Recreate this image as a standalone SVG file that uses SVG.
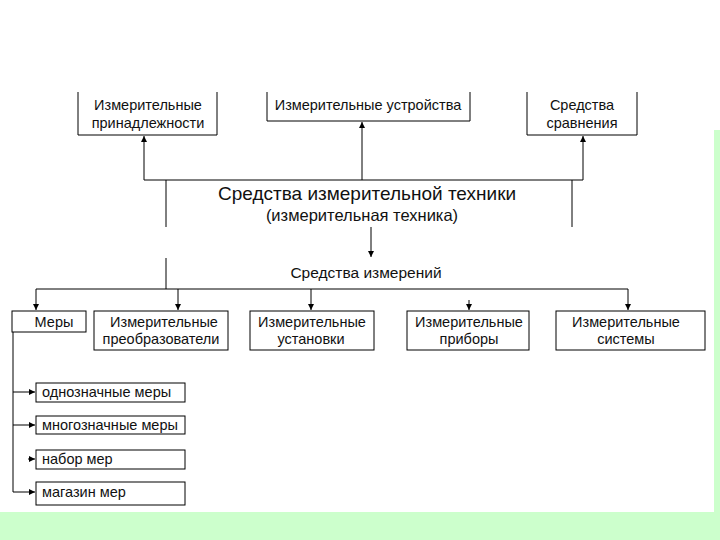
<svg xmlns="http://www.w3.org/2000/svg" width="720" height="540" viewBox="0 0 720 540">
<defs>
<marker id="ah" viewBox="0 0 10 10" refX="10" refY="5" markerWidth="6" markerHeight="6" markerUnits="userSpaceOnUse" orient="auto">
<path d="M0,0 L10,5 L0,10 z" fill="#000"/>
</marker>
<style>
.box{fill:#fff;stroke:#000;stroke-width:1}
.ln{fill:none;stroke:#000;stroke-width:1}
.t{font-family:"Liberation Sans",Arial,sans-serif;font-size:14.5px;fill:#111;text-anchor:middle}
.tl{font-family:"Liberation Sans",Arial,sans-serif;font-size:14.5px;fill:#111}
</style>
</defs>
<rect x="0" y="0" width="720" height="540" fill="#fff"/>
<rect x="714" y="130" width="6" height="410" fill="#ccffcc"/>
<rect x="0" y="512" width="720" height="28" fill="#ccffcc"/>

<g id="connectors">
<path class="ln" d="M144,180 H583"/>
<path class="ln" d="M144,180 V136" marker-end="url(#ah)"/>
<path class="ln" d="M362,180 V122" marker-end="url(#ah)"/>
<path class="ln" d="M583,180 V136" marker-end="url(#ah)"/>
<path class="ln" d="M166,180 V227"/>
<path class="ln" d="M572,180 V227"/>
<path class="ln" d="M371,227 V257" marker-end="url(#ah)"/>
<path class="ln" d="M166,258 V289"/>
<path class="ln" d="M36,289 H628"/>
<path class="ln" d="M36,289 V310" marker-end="url(#ah)"/>
<path class="ln" d="M178,289 V310" marker-end="url(#ah)"/>
<path class="ln" d="M311,289 V310" marker-end="url(#ah)"/>
<path class="ln" d="M469,300 V310" marker-end="url(#ah)"/>
<path class="ln" d="M628,289 V310" marker-end="url(#ah)"/>
<path class="ln" d="M13,332 V492"/>
<path class="ln" d="M13,392 H35" marker-end="url(#ah)"/>
<path class="ln" d="M13,425 H35" marker-end="url(#ah)"/>
<path class="ln" d="M28,459 H35" marker-end="url(#ah)"/>
<path class="ln" d="M13,492 H35" marker-end="url(#ah)"/>
</g>

<g id="n-prinadl">
<path class="ln" d="M78,92 V135 H217 V92"/>
<text class="t" x="148" y="110">Измерительные</text>
<text class="t" x="148" y="128">принадлежности</text>
</g>
<g id="n-ustr">
<path class="ln" d="M267,92 V121 H470 V92"/>
<text class="t" x="368" y="110">Измерительные устройства</text>
</g>
<g id="n-sravn">
<path class="ln" d="M527,92 V135 H637 V92"/>
<text class="t" x="582" y="110">Средства</text>
<text class="t" x="582" y="128">сравнения</text>
</g>

<g id="n-title">
<text class="t" x="367" y="200" style="font-size:19px">Средства измерительной техники</text>
<text class="t" x="362" y="221" style="font-size:16.5px">(измерительная техника)</text>
</g>

<g id="n-si">
<text class="t" x="366" y="278" style="font-size:15.5px">Средства измерений</text>
</g>

<g id="n-mery">
<rect class="box" x="12" y="311" width="74" height="21"/>
<text class="t" x="54" y="327">Меры</text>
</g>
<g id="n-preobr">
<rect class="box" x="94" y="311" width="134" height="39"/>
<text class="t" x="164" y="327">Измерительные</text>
<text class="t" x="161" y="344">преобразователи</text>
</g>
<g id="n-ustan">
<rect class="box" x="250" y="311" width="124" height="39"/>
<text class="t" x="312" y="327">Измерительные</text>
<text class="t" x="311" y="344">установки</text>
</g>
<g id="n-pribory">
<rect class="box" x="407" y="311" width="122" height="39"/>
<text class="t" x="469" y="327">Измерительные</text>
<text class="t" x="469" y="344">приборы</text>
</g>
<g id="n-sistemy">
<rect class="box" x="556" y="311" width="149" height="39"/>
<text class="t" x="626" y="327">Измерительные</text>
<text class="t" x="626" y="344">системы</text>
</g>

<g id="n-odnozn">
<rect class="box" x="36" y="383" width="149" height="19"/>
<text class="tl" x="42" y="397">однозначные меры</text>
</g>
<g id="n-mnogozn">
<rect class="box" x="36" y="416" width="149" height="18"/>
<text class="tl" x="42" y="430">многозначные меры</text>
</g>
<g id="n-nabor">
<rect class="box" x="36" y="450" width="149" height="19"/>
<text class="tl" x="42" y="464">набор мер</text>
</g>
<g id="n-magazin">
<rect class="box" x="36" y="482" width="149" height="23"/>
<text class="tl" x="42" y="497">магазин мер</text>
</g>
</svg>
